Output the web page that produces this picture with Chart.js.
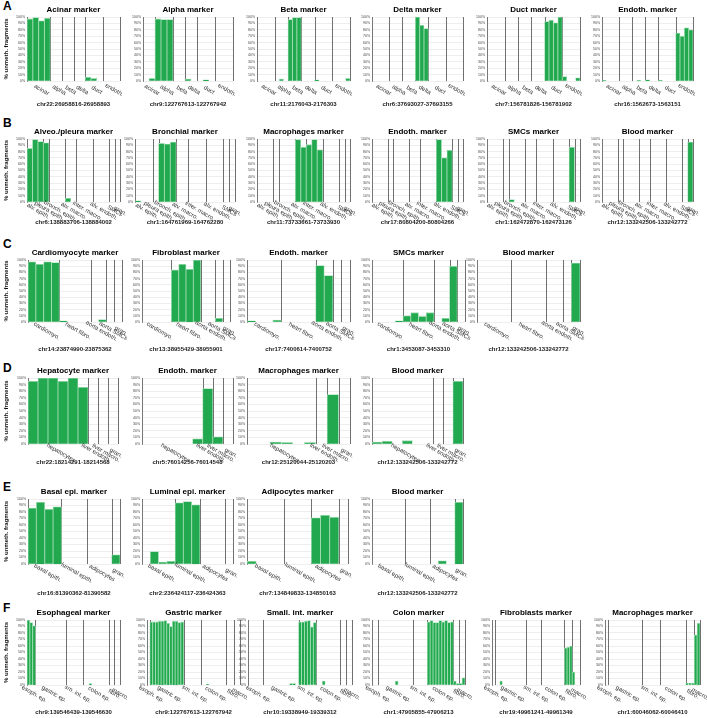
<!DOCTYPE html>
<html><head><meta charset="utf-8">
<script src="https://cdn.jsdelivr.net/npm/chart.js@4/dist/chart.umd.min.js"></script>
<style>
html,body{margin:0;padding:0;background:#fff;}
#root{position:relative;width:707px;height:718px;overflow:hidden;font-family:"Liberation Sans",Arial,sans-serif;}
.rl{position:absolute;left:3px;font-weight:bold;font-size:12px;line-height:12px;color:#000;}
canvas{position:absolute;}
</style></head><body><div id="root"></div>
<script>
// ---------- Row A: pancreas ----------
const groupsA = ["acinar","alpha","beta","delta","duct","endoth."];
const titlesA = ["Acinar marker","Alpha marker","Beta marker","Delta marker","Duct marker","Endoth. marker"];
const chrA = ["chr22:26958816-26958893","chr9:122767613-122767942","chr11:2176043-2176303","chr6:37693027-37693155","chr7:156781826-156781902","chr16:1562673-1563151"];
const acinarMarker = [[97,99,94,98],[0,0],[0,0],[0,0],[6,4,0],[0,0,0]];
const alphaMarker  = [[0,4],[97,96,96],[0,0],[3,0],[0,2,0],[0,0,0]];
const betaMarker   = [[0,0,0,0],[0,3,0],[96,99,99],[0,0,0],[2,0,0,0],[0,0,0,4]];
const deltaMarker  = [[0,0,0,0],[0,0,0],[0,0,0],[100,87,82],[0,0,0,0],[0,0,0,0]];
const ductMarker   = [[0,0,0,0],[0,0,0],[0,0,0],[0,0,0],[93,95,91,100],[7,0,0,5]];
const endothMarkerA= [[1,0,0,0],[0,0,0],[0,1,0],[2,0,0],[1,0,0,0],[75,70,83,80]];

// ---------- Row B: lung ----------
const groupsB = ["alv. epith.","pleura epith.","bronch. epith.","alv. macro.","inter. macro.","alv. endoth.","SMCs","gran."];
const titlesB = ["Alveo./pleura marker","Bronchial marker","Macrophages marker","Endoth. marker","SMCs marker","Blood marker"];
const chrB = ["chr6:138883706-138884002","chr1:164761969-164762280","chr11:73733661-73733930","chr17:80804200-80804266","chr1:162472870-162473126","chr12:133242506-133242772"];
const alveoMarker   = [[85,99,96],[94],[0,0,0],[6,0],[0,0,0],[0,0,0],[0],[0]];
const bronchMarker  = [[2,0,0],[0],[93,92,95],[0,0],[0,0,0],[0,0,0],[0],[0]];
const macroMarkerB  = [[0,0,0],[0],[0,0,0],[99,87],[91,99,83],[0,0,0],[0],[0]];
const endothMarkerB = [[0,0,0],[0],[0,0,0],[0,0],[0,0,0],[99,70,82],[0],[0]];
const smcMarkerB    = [[0,0,0],[0],[4,0,0],[0,0],[0,0,0],[0,0,0],[87],[0]];
const bloodMarkerB  = [[0,0,0],[0],[0,0,0],[0,0],[0,0,0],[0,0,0],[0],[95]];

// ---------- Row C: heart / aorta ----------
const groupsC = ["cardiomyo.","heart fibro.","aorta endoth.","aorta SMCs","gran."];
const titlesC = ["Cardiomyocyte marker","Fibroblast marker","Endoth. marker","SMCs marker","Blood marker"];
const chrC = ["chr14:23874990-23875362","chr13:38955429-38955901","chr17:7400614-7400752","chr1:3453087-3453310","chr12:133242506-133242772"];
const cardioMarker  = [[97,93,97,96],[2,0,0,0],[0,4],[0],[0]];
const fibroMarkerC  = [[0,0,0,0],[84,93,85,100],[0,0],[6],[0]];
const endothMarkerC = [[2,0,0,3],[0,0,0,0],[91,75],[0],[0]];
const smcMarkerC    = [[0,0,0,2],[10,15,9,15],[0,6],[90],[0]];
const bloodMarkerC  = [[0,0,0,0],[0,0,0,0],[0,0],[0],[95]];

// ---------- Row D: liver ----------
const groupsD = ["hepatocytes","liver endoth.","liver macro.","gran."];
const titlesD = ["Hepatocyte marker","Endoth. marker","Macrophages marker","Blood marker"];
const chrD = ["chr22:18214291-18214568","chr5:76014256-76014548","chr12:25120044-25120203","chr12:133242506-133242772"];
const hepMarker     = [[95,100,100,95,100,86],[0],[0],[0]];
const endothMarkerD = [[0,0,0,0,0,8],[84],[11],[0]];
const macroMarkerD  = [[0,0,3,2,0,2],[0],[75],[0]];
const bloodMarkerD  = [[3,4,0,5,0,0],[0],[0],[95]];

// ---------- Row E: breast ----------
const groupsE = ["basal epith.","luminal epith.","adipocytes","gran."];
const titlesE = ["Basal epi. marker","Luminal epi. marker","Adipocytes marker","Blood marker"];
const chrE = ["chr16:81390362-81390582","chr2:236424117-236424363","chr7:134849833-134850163","chr12:133242506-133242772"];
const basalMarker   = [[86,95,84,88],[0,0,0],[0,0,0],[14]];
const luminalMarker = [[0,19,3,4],[94,96,91],[0,0,0],[0]];
const adipoMarker   = [[4,0,0,0],[0,0,0],[71,75,72],[0]];
const bloodMarkerE  = [[0,0,0,0],[0,0,0],[0,5,0],[95]];

// ---------- Row F: GI tract ----------
const groupsF = ["esoph. ep.","gastric ep.","sm. int. ep.","colon ep.","fibro.","macro."];
const titlesF = ["Esophageal marker","Gastric marker","Small. int. marker","Colon marker","Fibroblasts marker","Macrophages marker"];
const chrF = ["chr9:139546439-139546630","chr9:122767613-122767942","chr10:19338949-19339312","chr1:47905855-47906213","chr19:49961241-49961349","chr1:60046062-60046410"];
const esophMarker   = [[100,96,91],[0,0,0,0,0,0,0,0,0,0,0],[0,0,0,0,0,0],[0,0,2,0,0,0,0,0,0],[0,0],[0,0]];
const gastricMarker = [[0],[97,97,97,98,98,99,95,90,98,98,96,97],[0,0,0,0,0,0],[0,0,1,0,0,0,0,0,0],[0,0,0],[0,0]];
const smIntMarker   = [[0,0,0,0,0],[0,0,0,0,0,0,0,0,0,2,2,0],[97,97,98,99,89,96],[0,0,6,0,0,0,0,0],[0,0],[0,0]];
const colonMarker   = [[0,0],[0,0,0,0,0,0,6,0,0,0,0,0],[0,0,0,0,0],[97,99,96,96,99,97,99,96,97],[6,2],[2,11]];
const fibroMarkerF  = [[0],[0,0,6,0,0,0,0,0,0,0,0,0],[0,0,0,0,0,0],[0,0,0,0,0,0,0,0,0],[57,58,60],[20,0,0]];
const macroMarkerF  = [[0],[0,0,0,0,0,0,0,0,0,0,0,0],[0,0,0,0,0,0],[0,0,0,0,0,0,0,0,0],[3,3,3],[77,95]];

const yTicks = [0,10,20,30,40,50,60,70,80,90,100];

// ---------- layout (not data) ----------
const rows = [
  {letter:'A', letterTop:0,   plotTop:17,  plotBottom:81,  chrY:104, groups:groupsA, titles:titlesA, chrs:chrA,
   panels:[acinarMarker,alphaMarker,betaMarker,deltaMarker,ductMarker,endothMarkerA],
   xs:[[27,120],[143,233],[257,350],[372,463],[487,580],[602,693]]},
  {letter:'B', letterTop:117, plotTop:139, plotBottom:202, chrY:222, groups:groupsB, titles:titlesB, chrs:chrB,
   panels:[alveoMarker,bronchMarker,macroMarkerB,endothMarkerB,smcMarkerB,bloodMarkerB],
   xs:[[27,120],[135,235],[257,350],[372,463],[487,580],[602,693]]},
  {letter:'C', letterTop:238, plotTop:260, plotBottom:322, chrY:349, groups:groupsC, titles:titlesC, chrs:chrC,
   panels:[cardioMarker,fibroMarkerC,endothMarkerC,smcMarkerC,bloodMarkerC],
   xs:[[28,122],[142,230],[247,350],[372,465],[477,580]]},
  {letter:'D', letterTop:362, plotTop:378, plotBottom:444, chrY:462, groups:groupsD, titles:titlesD, chrs:chrD,
   panels:[hepMarker,endothMarkerD,macroMarkerD,bloodMarkerD],
   xs:[[28,118],[142,233],[247,350],[372,463]]},
  {letter:'E', letterTop:481, plotTop:499, plotBottom:564, chrY:593, groups:groupsE, titles:titlesE, chrs:chrE,
   panels:[basalMarker,luminalMarker,adipoMarker,bloodMarkerE],
   xs:[[28,120],[142,233],[247,348],[372,463]]},
  {letter:'F', letterTop:602, plotTop:620, plotBottom:685, chrY:712, groups:groupsF, titles:titlesF, chrs:chrF,
   panels:[esophMarker,gastricMarker,smIntMarker,colonMarker,fibroMarkerF,macroMarkerF],
   xs:[[27,120],[147,240],[248,352],[372,465],[492,580],[605,700]]}
];

const FONT = '"Liberation Sans", Arial, sans-serif';
const TITLE_H = 12;   // 8px*1.2 + 2.4 padding
const PADR = 12;

const groupPlugin = {
  id: 'groups',
  beforeDatasetsDraw(chart, args, opts) {
    const ctx = chart.ctx, a = chart.chartArea, x = chart.scales.x;
    ctx.save();
    ctx.strokeStyle = '#707070'; ctx.lineWidth = 1;
    const pos = opts.starts.slice(1).map(i => (x.getPixelForValue(i - 1) + x.getPixelForValue(i)) / 2);
    pos.push(a.right - 0.5);
    pos.forEach(px => {
      const X = Math.round(px) + 0.5;
      ctx.beginPath(); ctx.moveTo(X, a.top); ctx.lineTo(X, a.bottom); ctx.stroke();
    });
    ctx.restore();
  },
  afterDraw(chart, args, opts) {
    const ctx = chart.ctx, a = chart.chartArea, x = chart.scales.x;
    ctx.save();
    ctx.font = '6px ' + FONT; ctx.fillStyle = '#333';
    ctx.textAlign = 'center'; ctx.textBaseline = 'middle';
    opts.names.forEach((name, g) => {
      const s = opts.starts[g], n = opts.sizes[g];
      const cx = (x.getPixelForValue(s) + x.getPixelForValue(s + n - 1)) / 2;
      ctx.save();
      ctx.translate(cx + 3, a.bottom + 9);
      ctx.rotate(Math.PI / 6);
      ctx.fillText(name, 0, 0);
      ctx.restore();
    });
    ctx.restore();
  }
};

const root = document.getElementById('root');
rows.forEach(row => {
  const lt = document.createElement('div');
  lt.className = 'rl'; lt.textContent = row.letter; lt.style.top = row.letterTop + 'px';
  root.appendChild(lt);
  row.panels.forEach((pdata, p) => {
    const [L, R] = row.xs[p];
    const first = p === 0;
    const yW = first ? L : 15;
    const cLeft = L - yW;
    const cTop = row.plotTop - TITLE_H;
    const cBottom = row.chrY + 4;
    const W = R - cLeft + PADR;
    const H = cBottom - cTop;
    const xH = cBottom - row.plotBottom;
    const cv = document.createElement('canvas');
    cv.width = W; cv.height = H;
    cv.style.left = cLeft + 'px'; cv.style.top = cTop + 'px';
    cv.style.width = W + 'px'; cv.style.height = H + 'px';
    root.appendChild(cv);
    const values = pdata.flat();
    const starts = [], sizes = []; let s = 0;
    pdata.forEach(g => { starts.push(s); sizes.push(g.length); s += g.length; });
    new Chart(cv, {
      type: 'bar',
      data: {
        labels: values.map((v, i) => String(i)),
        datasets: [{
          data: values,
          backgroundColor: '#22a94f',
          borderColor: '#9edcb1',
          borderWidth: 0.8,
          barPercentage: 1,
          categoryPercentage: 1
        }]
      },
      options: {
        responsive: false, animation: false, devicePixelRatio: 1,
        layout: { padding: { left: 0, right: PADR, top: 0, bottom: 0 } },
        plugins: {
          legend: { display: false }, tooltip: { enabled: false },
          title: { display: true, text: row.titles[p], fullSize: false, color: '#000',
                   font: { size: 8, weight: 'bold', family: FONT, lineHeight: 1.2 },
                   padding: { top: 0, bottom: 2.4 } },
          groups: { names: row.groups, starts: starts, sizes: sizes }
        },
        scales: {
          x: {
            type: 'category', offset: true,
            grid: { display: false }, border: { display: false },
            ticks: { display: false },
            title: { display: true, text: row.chrs[p], color: '#222',
                     font: { size: 6, weight: 'bold', family: FONT, lineHeight: 1.2 },
                     padding: { top: 0, bottom: 0 } },
            afterFit: sc => { sc.height = xH; }
          },
          y: {
            min: 0, max: 100,
            afterBuildTicks: sc => { sc.ticks = yTicks.map(v => ({ value: v })); },
            ticks: { autoSkip: false, padding: 2, color: '#444',
                     font: { size: 3.5, family: FONT }, callback: v => v + '%' },
            grid: { color: '#e2e2e2', lineWidth: 0.6, drawTicks: false },
            border: { color: '#777', width: 1 },
            title: { display: first, text: '% unmeth. fragments', color: '#111',
                     font: { size: 6, weight: 'bold', family: FONT, lineHeight: 1.2 },
                     padding: { top: 3, bottom: 0 } },
            afterFit: sc => { sc.width = yW; }
          }
        }
      },
      plugins: [groupPlugin]
    });
  });
});
</script></body></html>
